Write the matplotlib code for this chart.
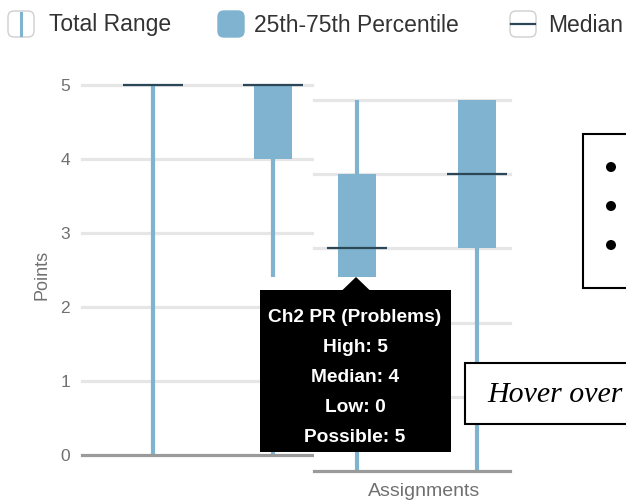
import matplotlib
matplotlib.use("Agg")
import matplotlib.pyplot as plt
from matplotlib.patches import Rectangle, FancyBboxPatch, Polygon, Circle

# ---------------- data ----------------
y_ticks = [0, 1, 2, 3, 4, 5]
y_tick_labels = ["0", "1", "2", "3", "4", "5"]

# panel 1 (left chart)
p1_low = [0, 0]
p1_q1 = [5, 4]
p1_median = [5, 5]
p1_q3 = [5, 5]
p1_high = [5, 5]

# panel 2 (overlapping chart)
p2_low = [0, 0]
p2_q1 = [2, 3]
p2_median = [3, 4]
p2_q3 = [4, 5]
p2_high = [5, 5]

legend_labels = ["Total Range", "25th-75th Percentile", "Median"]
tooltip_lines = ["Ch2 PR (Problems)", "High: 5", "Median: 4", "Low: 0", "Possible: 5"]
y_label = "Points"
x_label = "Assignments"
hover_text = "Hover over"

# ---------------- style ----------------
W, H = 626, 504
BOX = "#7fb3cf"
MED = "#2b4656"
GRID = "#e6e6e6"
BASE = "#9a9a9a"
TXT = "#707070"
SANS = "Liberation Sans"

fig = plt.figure(figsize=(W / 100, H / 100), dpi=100)


def add_panel(left, right, top, bottom, xlim, low, q1, med, q3, high, show_labels):
    ax = fig.add_axes([left / W, 1 - bottom / H, (right - left) / W, (bottom - top) / H])
    ax.set_xlim(*xlim)
    ax.set_ylim(0, 5)
    ax.set_facecolor("white")
    for s in ax.spines.values():
        s.set_visible(False)
    for t in y_ticks[1:]:
        ax.axhline(t, color=GRID, lw=2.3, zorder=1, clip_on=False)
    ax.axhline(0, color=BASE, lw=2.3, zorder=4, clip_on=False)
    ax.set_xticks([])
    ax.set_yticks(y_ticks)
    if show_labels:
        ax.set_yticklabels(y_tick_labels, fontsize=12.5, color=TXT, family=SANS)
    else:
        ax.set_yticklabels([])
    ax.tick_params(axis="y", length=0, pad=8.5)
    xs = [1, 2]
    ax.vlines(xs, low, high, color=BOX, lw=3, zorder=2, clip_on=False)
    heights = [b - a for a, b in zip(q1, q3)]
    ax.bar(xs, heights, bottom=q1, width=0.317, color=BOX, zorder=3, clip_on=False)
    for x, m in zip(xs, med):
        ax.hlines(m, x - 0.25, x + 0.25, color=MED, lw=1.6, zorder=5, clip_on=False)
    return ax


# panel 1: x 82..312, y 85 (5) .. 455 (0); boxes at 153 and 273
ax1 = add_panel(82, 312, 85, 455, (1 - 71 / 120, 1 + 159 / 120),
                p1_low, p1_q1, p1_median, p1_q3, p1_high, True)

# panel 2: x 314..510, y 100 (5) .. 471 (0); boxes at 357 and 477
ax2 = add_panel(314, 510, 100, 471, (1 - 43 / 120, 1 + 153 / 120),
                p2_low, p2_q1, p2_median, p2_q3, p2_high, False)

# ---------------- overlay in pixel coordinates ----------------
ov = fig.add_axes([0, 0, 1, 1])
ov.set_xlim(0, W)
ov.set_ylim(H, 0)
ov.axis("off")
ov.set_zorder(10)
ov.patch.set_alpha(0)

ov.text(42, 275, y_label, rotation=90, ha="center", va="center", fontsize=13,
        color=TXT, family=SANS)
ov.text(424, 492, x_label, ha="center", va="center", fontsize=14,
        color=TXT, family=SANS)

# tooltip
ov.add_patch(Rectangle((257, 277), 197, 13, facecolor="white", edgecolor="none", zorder=1))
ov.add_patch(Rectangle((260, 290), 191, 162, facecolor="black", edgecolor="none", zorder=2))
ov.add_patch(Polygon([(342, 290.5), (356, 277), (370, 290.5)], closed=True,
                     facecolor="black", edgecolor="none", zorder=2))
for i, line in enumerate(tooltip_lines):
    ov.text(355, 318 + 30 * i, line, ha="center", va="center", color="white",
            fontsize=13.8, fontweight="bold", family=SANS, zorder=3)

# legend
def icon(x0, face, edge):
    ov.add_patch(FancyBboxPatch((x0, 11), 26, 26, boxstyle="round,pad=0,rounding_size=6",
                                facecolor=face, edgecolor=edge, lw=1.0, zorder=2))


icon(8, "white", "#cfcfcf")
ov.plot([21, 21], [13, 35], color=BOX, lw=2.2, zorder=3)
ov.text(49, 25, legend_labels[0], ha="left", va="center", fontsize=16.5,
        color="#333333", family=SANS)
icon(218, BOX, BOX)
ov.text(254, 25, legend_labels[1], ha="left", va="center", fontsize=16.5,
        color="#333333", family=SANS)
icon(510, "white", "#cfcfcf")
ov.plot([511, 535], [24, 24], color=MED, lw=1.6, zorder=3)
ov.text(548, 25, legend_labels[2], ha="left", va="center", fontsize=16.5,
        color="#333333", family=SANS)

# overlaid annotation boxes
ov.add_patch(Rectangle((583, 134), 60, 154, facecolor="white", edgecolor="black",
                       lw=1.5, zorder=5))
for by in [167, 206, 245]:
    ov.add_patch(Circle((611, by), 5, facecolor="black", edgecolor="none", zorder=6))

ov.add_patch(Rectangle((465, 363), 180, 61, facecolor="white", edgecolor="black",
                       lw=1.5, zorder=5))
ov.text(487, 395, hover_text, ha="left", va="center", fontsize=21.5,
        style="italic", family="Liberation Serif", color="black", zorder=6)

fig.savefig("out.png", dpi=100)
